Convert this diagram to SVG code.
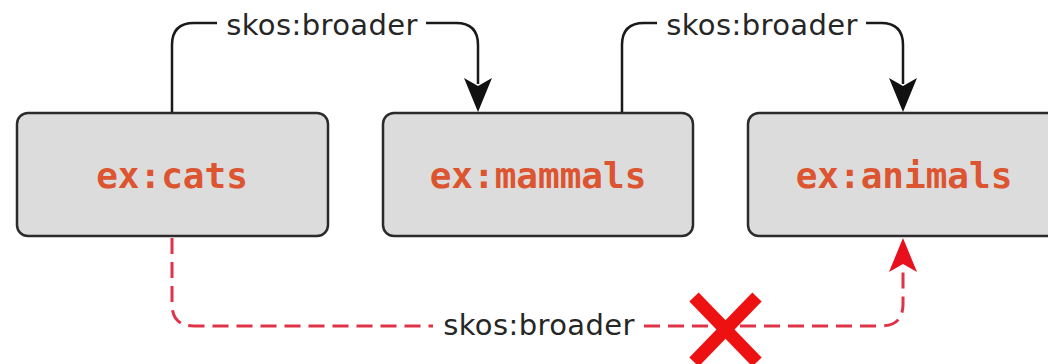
<svg xmlns="http://www.w3.org/2000/svg" width="1048" height="364" viewBox="0 0 1048 364">
  <style>
    .box { fill: #dcdcdc; stroke: #2b2b2b; stroke-width: 2.5; }
    .node-label { font-family: "DejaVu Sans Mono", "Liberation Mono", monospace; font-weight: bold; font-size: 36px; fill: #dc5530; text-anchor: middle; }
    .edge-label { font-family: "DejaVu Sans", "Liberation Sans", sans-serif; font-size: 29px; fill: #262626; text-anchor: middle; letter-spacing: 0.4px; }
    .edge { fill: none; stroke: #1a1a1a; stroke-width: 2.5; }
    .edge-bad { fill: none; stroke: #e0334a; stroke-width: 3; stroke-dasharray: 16 8; }
  </style>

  <g id="connectors">
    <g id="edge-cats-mammals">
      <path class="edge" d="M172,113 V45 Q172,23 194,23 H217"/>
      <path class="edge" d="M426,23 H456 Q478,23 478,45 V84"/>
      <path d="M478,112 L464,78 L478,86 L492,78 Z" fill="#111"/>
      <text class="edge-label" x="322" y="35">skos:broader</text>
    </g>
    <g id="edge-mammals-animals">
      <path class="edge" d="M622,113 V45 Q622,23 644,23 H657"/>
      <path class="edge" d="M866,23 H881 Q903,23 903,45 V84"/>
      <path d="M903,112 L889,78 L903,86 L917,78 Z" fill="#111"/>
      <text class="edge-label" x="762" y="35">skos:broader</text>
    </g>
    <g id="edge-cats-animals">
      <path class="edge-bad" d="M172,238 V304 Q172,326 194,326 H433"/>
      <path class="edge-bad" d="M644,326 H881 Q903,326 903,304 V266"/>
      <path d="M903,238 L889,272 L903,264 L917,272 Z" fill="#e8101c"/>
      <text class="edge-label" x="539" y="335">skos:broader</text>
      <g id="cross" stroke="#ee1111" stroke-width="13" stroke-linecap="butt">
        <line x1="694" y1="297" x2="757" y2="362"/>
        <line x1="757" y1="297" x2="694" y2="362"/>
      </g>
    </g>
  </g>

  <g id="node-cats">
    <rect class="box" x="17" y="113" width="311" height="123" rx="11"/>
    <text class="node-label" x="172" y="188">ex:cats</text>
  </g>
  <g id="node-mammals">
    <rect class="box" x="383" y="113" width="310" height="123" rx="11"/>
    <text class="node-label" x="538" y="188">ex:mammals</text>
  </g>
  <g id="node-animals">
    <rect class="box" x="748" y="113" width="311" height="123" rx="11"/>
    <text class="node-label" x="904" y="188">ex:animals</text>
  </g>
</svg>
